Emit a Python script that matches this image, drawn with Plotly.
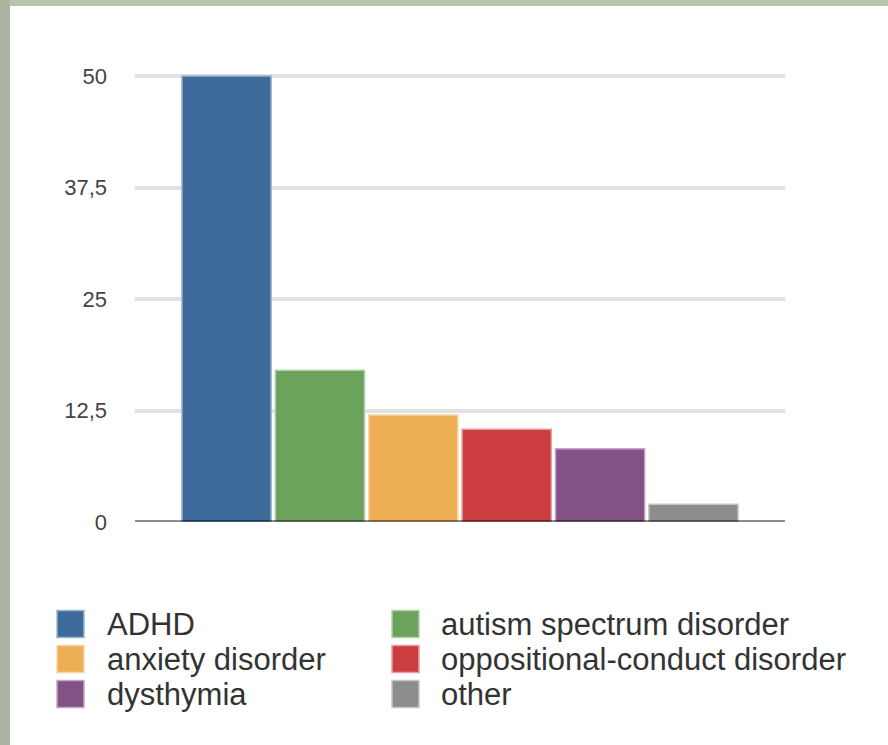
import plotly.graph_objects as go

# ---- data ----
categories = ["ADHD", "autism spectrum disorder", "anxiety disorder",
              "oppositional-conduct disorder", "dysthymia", "other"]
values = [50, 17, 12, 10.4, 8.2, 2]
colors = ["#3d6b9a", "#6ba25c", "#eeae54", "#cc3d40", "#825186", "#8d8d8d"]
edge_colors = ["#9db5cd", "#b5d0ad", "#f6d6a9", "#e59ea0", "#c0a8c2", "#c6c6c6"]
tick_vals = [0, 12.5, 25, 37.5, 50]
tick_text = ["0", "12,5", "25", "37,5", "50"]

# ---- layout geometry (pixels) ----
W, H = 888, 745
L, R, T, B = 135, 888 - 785, 72, 745 - 522
PW, PH = W - L - R, H - T - B
YMAX = 50.45  # small headroom so the 50 gridline is drawn fully


def px2x(px):
    return (px - L) / PW


def py2y(py):
    return (H - B - py) / PH


FONT = "Liberation Sans, Arial, Helvetica, sans-serif"

fig = go.Figure()
for cat, v, c, ec in zip(categories, values, colors, edge_colors):
    fig.add_trace(go.Bar(
        x=[""], y=[v], name=cat, showlegend=False,
        marker=dict(color=c, line=dict(color=ec, width=1.5)),
        hoverinfo="skip",
    ))

shapes = []
# photo background strips (top and left)
shapes.append(dict(type="rect", xref="paper", yref="paper", layer="below",
                   x0=px2x(0), x1=px2x(W), y0=py2y(0), y1=py2y(6),
                   fillcolor="#b9c2ac", line=dict(width=0)))
shapes.append(dict(type="rect", xref="paper", yref="paper", layer="below",
                   x0=px2x(0), x1=px2x(10), y0=py2y(0), y1=py2y(H),
                   fillcolor="#aab2a0", line=dict(width=0)))
# baseline
shapes.append(dict(type="line", xref="paper", yref="y", layer="above",
                   x0=0, x1=1, y0=0, y1=0,
                   line=dict(color="rgba(0,0,0,0.45)", width=4)))

# manual legend (two columns, row-major order)
annotations = []
col_sw_x = [57, 392]
col_tx_x = [105, 439]
row_y = [624, 659, 694]
for i, (cat, c, ec) in enumerate(zip(categories, colors, edge_colors)):
    col, row = i % 2, i // 2
    cy = row_y[row]
    sx = col_sw_x[col]
    shapes.append(dict(type="rect", xref="paper", yref="paper",
                       x0=px2x(sx), x1=px2x(sx + 27),
                       y0=py2y(cy + 13.5), y1=py2y(cy - 13.5),
                       fillcolor=c, line=dict(color=ec, width=1.5)))
    annotations.append(dict(xref="paper", yref="paper", x=px2x(col_tx_x[col]),
                            y=py2y(cy), text=cat, showarrow=False,
                            xanchor="left", yanchor="middle",
                            font=dict(family=FONT, size=31, color="#333333")))

fig.update_layout(
    width=W, height=H,
    margin=dict(l=L, r=R, t=T, b=B, pad=0),
    paper_bgcolor="white", plot_bgcolor="white",
    barmode="group", bargap=0.138, bargroupgap=0.045,
    showlegend=False,
    shapes=shapes, annotations=annotations,
    xaxis=dict(showticklabels=False, showgrid=False, zeroline=False,
               showline=False, ticks=""),
    yaxis=dict(range=[0, YMAX], tickvals=tick_vals, ticktext=tick_text,
               showgrid=True, gridcolor="#e2e2e2", gridwidth=4,
               zeroline=False, showline=False, ticks="",
               ticklabelstandoff=27,
               tickfont=dict(family=FONT, size=22, color="#444444")),
)

fig.write_html("out.html",
               config={"displayModeBar": False, "staticPlot": True},
               post_script="document.body.style.margin='0';"
                           "document.body.style.overflow='hidden';")
